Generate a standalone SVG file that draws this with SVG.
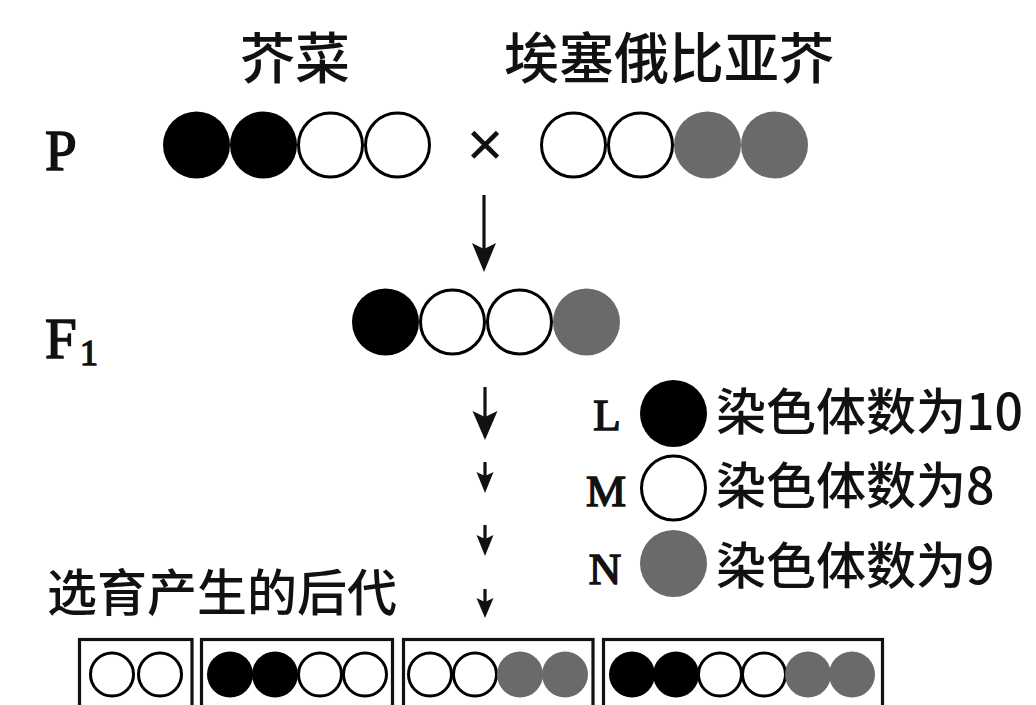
<svg xmlns="http://www.w3.org/2000/svg" width="1036" height="705" viewBox="0 0 1036 705">
  <style>
    .cjk { font-family: "Noto Sans CJK SC", "Noto Sans", sans-serif; font-weight: 500; fill: #111; }
    .lat { font-family: "Liberation Serif", "Times New Roman", Times, serif; fill: #111; stroke: #111; stroke-width: 1.5; }
    .L { fill: #000; }
    .M { fill: #fff; stroke: #000; stroke-width: 3; }
    .N { fill: #6a6a6a; }
    .shaft { stroke: #111; stroke-width: 3.2; fill: none; }
    .head { fill: #111; }
    .box { fill: none; stroke: #111; stroke-width: 3.2; }
  </style>

  <!-- parental species names -->
  <g id="label-mustard">
    <text class="cjk" x="295" y="78" font-size="55" text-anchor="middle">芥菜</text>
  </g>
  <g id="label-ethiopian">
    <text class="cjk" x="669" y="78" font-size="55" text-anchor="middle">埃塞俄比亚芥</text>
  </g>

  <!-- generation labels -->
  <g id="label-P">
    <text class="lat" x="45" y="170" font-size="57">P</text>
  </g>
  <g id="label-F1">
    <text class="lat" x="45" y="358" font-size="57">F</text>
    <text class="lat" x="80" y="365" font-size="36" stroke-width="1">1</text>
  </g>

  <!-- P: mustard genome LLMM -->
  <g id="p-mustard">
    <circle class="L" cx="196.5" cy="145" r="33.5"/>
    <circle class="L" cx="263.5" cy="145" r="33.5"/>
    <circle class="M" cx="330.5" cy="145" r="32"/>
    <circle class="M" cx="397.5" cy="145" r="32"/>
  </g>

  <g id="cross">
    <text class="lat" x="485" y="166" font-size="64" text-anchor="middle" stroke-width="0.3">×</text>
  </g>

  <!-- P: Ethiopian mustard genome MMNN -->
  <g id="p-ethiopian">
    <circle class="M" cx="573.5" cy="145" r="32"/>
    <circle class="M" cx="640.5" cy="145" r="32"/>
    <circle class="N" cx="707.5" cy="145" r="33.5"/>
    <circle class="N" cx="774.5" cy="145" r="33.5"/>
  </g>

  <!-- F1: LMMN -->
  <g id="f1">
    <circle class="L" cx="385.5" cy="322" r="33.5"/>
    <circle class="M" cx="452.5" cy="322" r="32"/>
    <circle class="M" cx="519.5" cy="322" r="32"/>
    <circle class="N" cx="586.5" cy="322" r="33.5"/>
  </g>

  <!-- legend -->
  <g id="legend-L">
    <text class="lat" x="607" y="430" font-size="45" text-anchor="middle">L</text>
    <circle class="L" cx="673.5" cy="413.5" r="33.5"/>
    <text class="cjk" x="716" y="430" font-size="50">染色体数为10</text>
  </g>
  <g id="legend-M">
    <text class="lat" x="606" y="506" font-size="45" text-anchor="middle">M</text>
    <circle class="M" cx="673.5" cy="488" r="32"/>
    <text class="cjk" x="716" y="504" font-size="50">染色体数为8</text>
  </g>
  <g id="legend-N">
    <text class="lat" x="605" y="584" font-size="45" text-anchor="middle">N</text>
    <circle class="N" cx="673.5" cy="563.5" r="33.5"/>
    <text class="cjk" x="716" y="584" font-size="50">染色体数为9</text>
  </g>

  <g id="label-offspring">
    <text class="cjk" x="47" y="611" font-size="50">选育产生的后代</text>
  </g>

  <!-- offspring genomes -->
  <g id="offspring-1">
    <rect class="box" x="79.5" y="639.5" width="112.5" height="90"/>
    <circle class="M" cx="112" cy="674.5" r="21.5"/>
    <circle class="M" cx="160" cy="674.5" r="21.5"/>
  </g>
  <g id="offspring-2">
    <rect class="box" x="201.5" y="639.5" width="191" height="90"/>
    <circle class="L" cx="230" cy="674.5" r="23"/>
    <circle class="L" cx="275" cy="674.5" r="23"/>
    <circle class="M" cx="320" cy="674.5" r="21.5"/>
    <circle class="M" cx="365" cy="674.5" r="21.5"/>
  </g>
  <g id="offspring-3">
    <rect class="box" x="403.5" y="639.5" width="189.5" height="90"/>
    <circle class="M" cx="430" cy="674.5" r="21.5"/>
    <circle class="M" cx="475" cy="674.5" r="21.5"/>
    <circle class="N" cx="520" cy="674.5" r="23"/>
    <circle class="N" cx="565" cy="674.5" r="23"/>
  </g>
  <g id="offspring-4">
    <rect class="box" x="603.5" y="639.5" width="279" height="90"/>
    <circle class="L" cx="632" cy="674.5" r="23"/>
    <circle class="L" cx="676" cy="674.5" r="23"/>
    <circle class="M" cx="720" cy="674.5" r="21.5"/>
    <circle class="M" cx="764" cy="674.5" r="21.5"/>
    <circle class="N" cx="808" cy="674.5" r="23"/>
    <circle class="N" cx="852" cy="674.5" r="23"/>
  </g>

  <!-- connectors: P to F1, then the selection steps -->
  <g id="connectors">
    <line class="shaft" x1="484" y1="195" x2="484" y2="250"/>
    <path class="head" d="M472,243 L484,272 L496,243 L484,249 Z"/>

    <line class="shaft" x1="485" y1="387" x2="485" y2="418"/>
    <path class="head" d="M472.5,411 L485,440 L497.5,411 L485,417 Z"/>

    <line class="shaft" x1="485" y1="462" x2="485" y2="476"/>
    <path class="head" d="M476.5,472 L485,493 L493.5,472 L485,476 Z"/>

    <line class="shaft" x1="485" y1="525" x2="485" y2="539"/>
    <path class="head" d="M476.5,535 L485,556 L493.5,535 L485,539 Z"/>

    <line class="shaft" x1="485" y1="589" x2="485" y2="602"/>
    <path class="head" d="M476.5,598 L485,618 L493.5,598 L485,602 Z"/>
  </g>
</svg>
